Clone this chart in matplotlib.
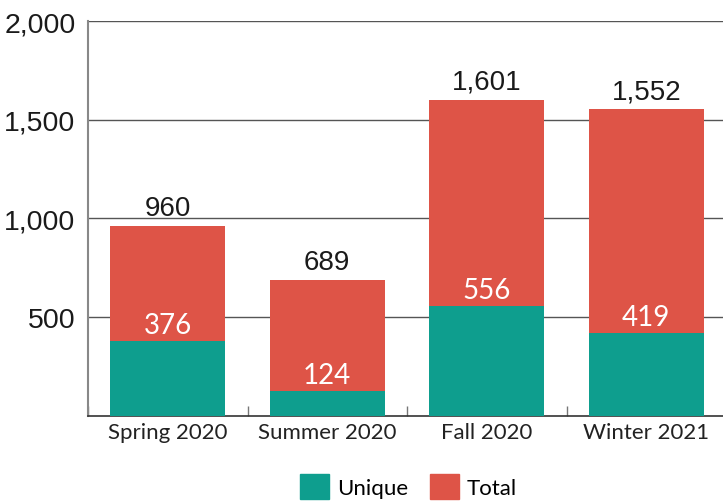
import numpy as np
import matplotlib.pyplot as plt
from matplotlib.patches import Patch

terms = ['Spring 2020', 'Summer 2020', 'Fall 2020', 'Winter 2021']
unique = [376, 124, 556, 419]
total = [960, 689, 1601, 1552]

teal = '#0E9E8E'
red = '#DE5447'
num_font = 'Liberation Sans'
txt_font = 'Lato'

fig = plt.figure(figsize=(7.23, 5.02), dpi=100)
ax = fig.add_axes([88/723, 1 - 416.5/502, 638/723, (416.5 - 22)/502])

x = np.arange(len(terms))
w = 0.72
rest = np.array(total) - np.array(unique)
ax.bar(x, unique, width=w, color=teal, zorder=3)
ax.bar(x, rest, width=w, bottom=unique, color=red, zorder=3)

for xi, u, t in zip(x, unique, total):
    ax.text(xi, t + 25, f'{t:,}', ha='center', va='bottom', fontsize=20,
            family=num_font, color='#1a1a1a', zorder=4)
    ax.text(xi, u + 15, f'{u:,}', ha='center', va='bottom', fontsize=20,
            family=txt_font, color='white', zorder=4)

ax.set_xlim(-0.5, 3.5)
ax.set_ylim(0, 2000)
ax.set_yticks([500, 1000, 1500, 2000])
ax.set_yticklabels([f'{v:,}' for v in [500, 1000, 1500, 2000]],
                   family=num_font, fontsize=20.5, color='#1a1a1a')
ax.tick_params(axis='y', length=0, pad=9)
ax.grid(axis='y', color='#555555', lw=1, zorder=1)

ax.set_xticks(x)
ax.set_xticklabels(terms, family=txt_font, fontsize=16, color='#222222')
ax.tick_params(axis='x', which='major', length=0, pad=5)
ax.set_xticks(np.arange(-0.5, 3.5, 1), minor=True)
ax.tick_params(axis='x', which='minor', direction='in', length=7,
               color='#777777', width=1)

for s in ['top', 'right']:
    ax.spines[s].set_visible(False)
ax.spines['left'].set_color('#888888')
ax.spines['left'].set_linewidth(1.5)
ax.spines['bottom'].set_color('#333333')
ax.spines['bottom'].set_linewidth(1.2)

handles = [Patch(color=teal, label='Unique'), Patch(color=red, label='Total')]
fig.legend(handles=handles, loc='lower center', bbox_to_anchor=(0.565, -0.035),
           ncol=2, frameon=False, handlelength=1.3, handleheight=1.3,
           columnspacing=1.0, handletextpad=0.35,
           prop={'family': txt_font, 'size': 16})

fig.savefig('out.png', dpi=100)
